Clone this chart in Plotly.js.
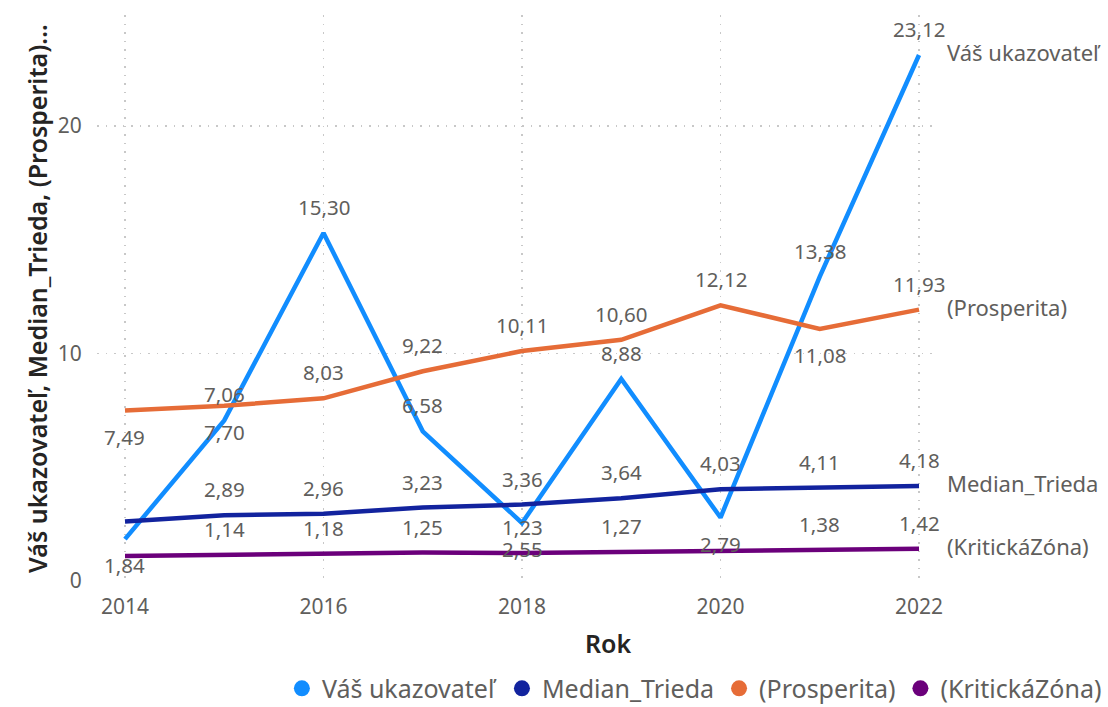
<!DOCTYPE html>
<html>
<head>
<meta charset="utf-8">
<script src="https://cdn.plot.ly/plotly-3.0.1.min.js"></script>
<style>html,body{margin:0;padding:0;background:#fff;}#chart{width:1108px;height:707px;}</style>
</head>
<body>
<div id="chart"></div>
<script>
// ---- data ----
const years = [2014, 2015, 2016, 2017, 2018, 2019, 2020, 2021, 2022];
const vasUkazovatel = [1.84, 7.06, 15.30, 6.58, 2.55, 8.88, 2.79, 13.38, 23.12];
const medianTrieda = [2.62, 2.89, 2.96, 3.23, 3.36, 3.64, 4.03, 4.11, 4.18];
const prosperita = [7.49, 7.70, 8.03, 9.22, 10.11, 10.60, 12.12, 11.08, 11.93];
const kritickaZona = [1.10, 1.14, 1.18, 1.25, 1.23, 1.27, 1.35, 1.38, 1.42];
const seriesNames = ["Váš ukazovateľ", "Median_Trieda", "(Prosperita)", "(KritickáZóna)"];
const xTitle = "Rok";
const yTitle = "Váš ukazovateľ, Median_Trieda, (Prosperita)...";

// label placement per point (a = above, b = below, n = none)
const vasLabelPos = ["b", "a", "a", "a", "b", "a", "b", "a", "a"];
const medLabelPos = ["n", "a", "a", "a", "a", "a", "a", "a", "a"];
const prosLabelPos = ["b", "b", "a", "a", "a", "a", "a", "b", "a"];
const kritLabelPos = ["n", "a", "a", "a", "a", "a", "n", "a", "a"];

const colors = ["#118DFF", "#12239E", "#E66C37", "#6B007B"];
const FONT = "Noto Sans, Open Sans, sans-serif";
const GRAY = "#605E5C";
const DARK = "#252423";

const allSeries = [vasUkazovatel, medianTrieda, prosperita, kritickaZona];
const allPos = [vasLabelPos, medLabelPos, prosLabelPos, kritLabelPos];

const fmt = v => v.toFixed(2).replace(".", ",");

const traces = [];
allSeries.forEach((vals, i) => {
  traces.push({
    x: years, y: vals, type: "scatter", mode: "lines",
    line: {color: colors[i], width: 4.5},
    showlegend: false, hoverinfo: "skip"
  });
});
// legend entries with circle symbols
allSeries.forEach((vals, i) => {
  traces.push({
    x: [null], y: [null], type: "scatter", mode: "markers",
    name: seriesNames[i],
    marker: {color: colors[i], size: 16, symbol: "circle"},
    showlegend: true
  });
});

const annotations = [];
allSeries.forEach((vals, i) => {
  vals.forEach((v, j) => {
    const p = allPos[i][j];
    if (p === "n") return;
    annotations.push({
      x: years[j], y: v, xref: "x", yref: "y",
      text: fmt(v), showarrow: false,
      xanchor: "center", yanchor: "middle",
      yshift: p === "a" ? 26 : -26,
      font: {family: FONT, size: 20.5, color: GRAY}
    });
  });
  const last = vals.length - 1;
  annotations.push({
    x: years[last], y: vals[last], xref: "x", yref: "y",
    text: seriesNames[i], showarrow: false,
    xanchor: "left", yanchor: "middle", xshift: 26, yshift: 3,
    font: {family: FONT, size: 22, color: GRAY}
  });
});
// x-axis title (placed where the reference puts it)
annotations.push({
  text: xTitle, xref: "paper", yref: "paper", x: 0.6098, y: -0.1076,
  xanchor: "center", yanchor: "middle", showarrow: false,
  font: {family: FONT, size: 25, color: DARK, weight: 600}
});

const gridStyle = {showgrid: true, gridcolor: "#C8C8C8", gridwidth: 1.5, griddash: "1.5px,7px"};

const layout = {
  width: 1108, height: 707,
  paper_bgcolor: "#fff", plot_bgcolor: "#fff",
  margin: {l: 97, r: 173, t: 15, b: 125},
  font: {family: FONT, color: GRAY},
  separators: ", ",
  xaxis: Object.assign({
    range: [2013.718, 2022.161], tick0: 2014, dtick: 2,
    zeroline: false, showline: false, automargin: false,
    ticks: "outside", ticklen: 6, tickcolor: "rgba(0,0,0,0)",
    tickfont: {family: FONT, size: 21, color: GRAY}
  }, gridStyle),
  yaxis: Object.assign({
    range: [-0.044, 24.88], tick0: 0, dtick: 10,
    zeroline: false, showline: false, automargin: false,
    ticks: "outside", ticklen: 10, tickcolor: "rgba(0,0,0,0)",
    tickfont: {family: FONT, size: 21, color: GRAY},
    title: {text: yTitle, font: {family: FONT, size: 25, color: DARK, weight: 600}, standoff: 3}
  }, gridStyle),
  legend: {
    orientation: "h", xref: "container", yref: "container",
    x: 0.999, xanchor: "right", y: 0.026, yanchor: "middle",
    font: {family: FONT, size: 25, color: GRAY},
    itemwidth: 30, bgcolor: "rgba(0,0,0,0)"
  },
  annotations: annotations,
  showlegend: true
};

Plotly.newPlot("chart", traces, layout, {displayModeBar: false, staticPlot: true});
</script>
</body>
</html>
